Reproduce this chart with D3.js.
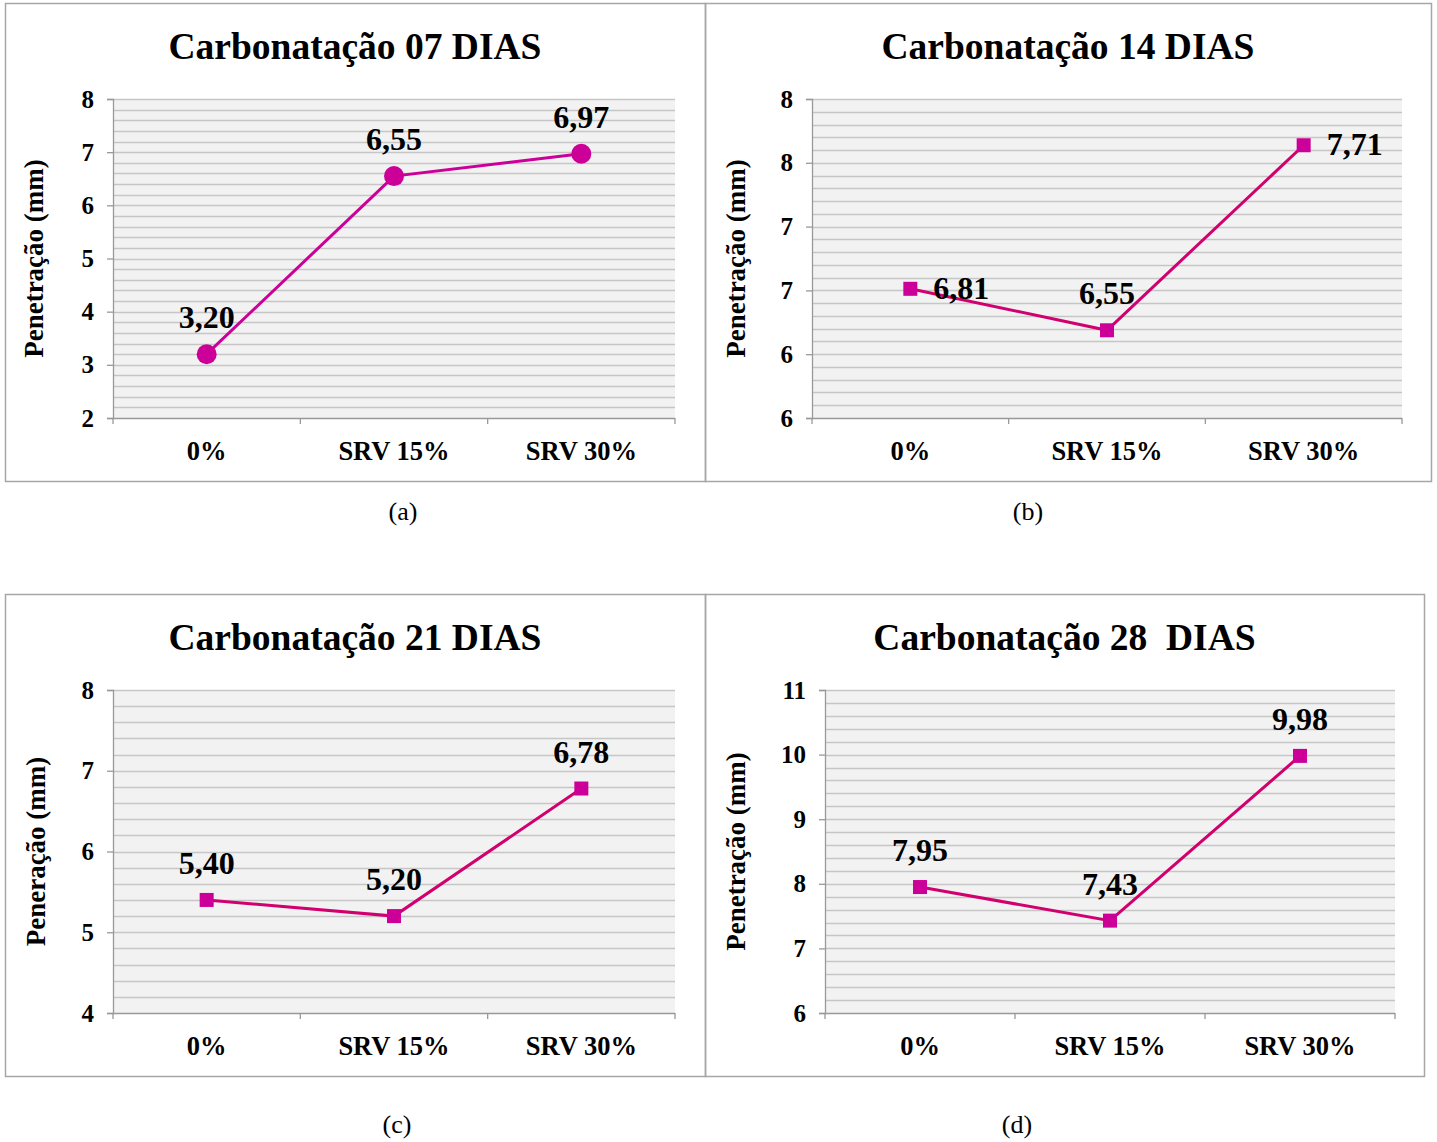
<!DOCTYPE html>
<html>
<head>
<meta charset="utf-8">
<script src="https://cdn.jsdelivr.net/npm/d3@7"></script>
<style>
  html, body { margin: 0; padding: 0; background: #ffffff; }
  svg { display: block; }
  text { font-family: "Liberation Serif", "Times New Roman", serif; fill: #000; }
</style>
</head>
<body>
<svg id="fig" width="1437" height="1142"></svg>
<script>
// Categories shared by all four panels
const categories = ["0%", "SRV 15%", "SRV 30%"];

// Carbonation depth (mm) at each age
const dias07 = [3.20, 6.55, 6.97];
const dias14 = [6.81, 6.55, 7.71];
const dias21 = [5.40, 5.20, 6.78];
const dias28 = [7.95, 7.43, 9.98];

// Y tick values per panel
const ticks07 = [2, 3, 4, 5, 6, 7, 8];
const ticks14 = [6.0, 6.4, 6.8, 7.2, 7.6, 8.0];
const ticks21 = [4, 5, 6, 7, 8];
const ticks28 = [6, 7, 8, 9, 10, 11];

// Titles, axis labels and captions
const titles = ["Carbonatação 07 DIAS", "Carbonatação 14 DIAS", "Carbonatação 21 DIAS", "Carbonatação 28\u00a0 DIAS"];
const yTitles = ["Penetração (mm)", "Penetração (mm)", "Peneração (mm)", "Penetração (mm)"];
const captions = ["(a)", "(b)", "(c)", "(d)"];

const svg = d3.select("#fig");

const panels = [
  { values: dias07, ticks: ticks07, fmt: d3.format(".0f"), marker: "circle", line: "#cc0099",
    labelPos: ["above", "above", "above"],
    box: [5, 3, 705, 481], plot: [113, 99, 675, 418], yTitleX: 35, caption: [403, 520] },
  { values: dias14, ticks: ticks14, fmt: d3.format(".0f"), marker: "square", line: "#d1006e",
    labelPos: ["right", "above", "right"],
    box: [705, 3, 1431, 481], plot: [812, 99, 1402, 418], yTitleX: 737, caption: [1028, 520] },
  { values: dias21, ticks: ticks21, fmt: d3.format(".0f"), marker: "square", line: "#d1006e",
    labelPos: ["above", "above", "above"],
    box: [5, 594, 705, 1076], plot: [113, 690, 675, 1013], yTitleX: 37, caption: [397, 1133] },
  { values: dias28, ticks: ticks28, fmt: d3.format(".0f"), marker: "square", line: "#d1006e",
    labelPos: ["above", "above", "above"],
    box: [705, 594, 1424, 1076], plot: [825, 690, 1395, 1013], yTitleX: 737, caption: [1017, 1133] }
];

const markerFill = "#cc0099";
const commaFmt = v => d3.format(".2f")(v).replace(".", ",");

panels.forEach((p, i) => {
  const [bx0, by0, bx1, by1] = p.box;
  const [px0, py0, px1, py1] = p.plot;
  const g = svg.append("g");

  // panel frame
  g.append("rect")
    .attr("x", bx0 + 0.5).attr("y", by0 + 0.5)
    .attr("width", bx1 - bx0).attr("height", by1 - by0)
    .attr("fill", "none").attr("stroke", "#a6a6a6").attr("stroke-width", 1.5);

  const x = d3.scaleBand().domain(categories).range([px0, px1]);
  const y = d3.scaleLinear().domain(d3.extent(p.ticks)).range([py1, py0]);

  // plot background
  g.append("rect")
    .attr("x", px0).attr("y", py0)
    .attr("width", px1 - px0).attr("height", py1 - py0)
    .attr("fill", "#f2f2f2");

  // gridlines: five subdivisions per major step
  const step = p.ticks[1] - p.ticks[0];
  const grid = [];
  for (let k = 0; k < p.ticks.length - 1; k++) {
    for (let m = 0; m < 5; m++) grid.push(p.ticks[k] + step * m / 5);
  }
  grid.push(p.ticks[p.ticks.length - 1]);
  g.append("g").selectAll("line").data(grid.slice(1)).join("line")
    .attr("x1", px0).attr("x2", px1)
    .attr("y1", d => Math.round(y(d)) + 0.5).attr("y2", d => Math.round(y(d)) + 0.5)
    .attr("stroke", "#c6c6c6").attr("stroke-width", 1.6);

  // y axis
  const yAxis = d3.axisLeft(y).tickValues(p.ticks).tickFormat(p.fmt).tickSize(6).tickPadding(13);
  const ya = g.append("g").attr("transform", `translate(${px0},0)`).call(yAxis);
  ya.select(".domain").attr("stroke", "#999").attr("stroke-width", 1.3);
  ya.selectAll(".tick line").attr("stroke", "#999").attr("stroke-width", 1.3);
  ya.selectAll(".tick text")
    .attr("font-family", "Liberation Serif").attr("font-weight", "bold").attr("font-size", 25)
    .attr("fill", "#000");

  // x axis: ticks on band boundaries
  const xa = g.append("g").attr("transform", `translate(0,${py1})`);
  xa.append("line").attr("x1", px0).attr("x2", px1).attr("y1", 0.5).attr("y2", 0.5)
    .attr("stroke", "#999").attr("stroke-width", 1.3);
  const bounds = categories.map(c => x(c)).concat([px1]);
  xa.selectAll("line.b").data(bounds).join("line").attr("class", "b")
    .attr("x1", d => d).attr("x2", d => d).attr("y1", 0).attr("y2", 6)
    .attr("stroke", "#999").attr("stroke-width", 1.3);
  xa.selectAll("text").data(categories).join("text")
    .attr("x", d => x(d) + x.bandwidth() / 2).attr("y", 42)
    .attr("text-anchor", "middle")
    .attr("font-weight", "bold").attr("font-size", 26.5)
    .text(d => d);

  // series line
  const pts = p.values.map((v, k) => [x(categories[k]) + x.bandwidth() / 2, y(v)]);
  g.append("path")
    .attr("d", d3.line()(pts))
    .attr("fill", "none").attr("stroke", p.line).attr("stroke-width", 3);

  // markers
  if (p.marker === "circle") {
    g.selectAll("circle.m").data(pts).join("circle").attr("class", "m")
      .attr("cx", d => d[0]).attr("cy", d => d[1]).attr("r", 10)
      .attr("fill", markerFill);
  } else {
    g.selectAll("rect.m").data(pts).join("rect").attr("class", "m")
      .attr("x", d => d[0] - 7).attr("y", d => d[1] - 7)
      .attr("width", 14).attr("height", 14)
      .attr("fill", markerFill);
  }

  // value labels
  g.selectAll("text.v").data(p.values).join("text").attr("class", "v")
    .attr("x", (v, k) => p.labelPos[k] === "right" ? pts[k][0] + 23 : pts[k][0])
    .attr("y", (v, k) => p.labelPos[k] === "right" ? pts[k][1] + 10 : pts[k][1] - 26)
    .attr("text-anchor", (v, k) => p.labelPos[k] === "right" ? "start" : "middle")
    .attr("font-weight", "bold").attr("font-size", 32)
    .text(v => commaFmt(v));

  // title
  g.append("text")
    .attr("x", (bx0 + bx1) / 2).attr("y", by0 + 56)
    .attr("text-anchor", "middle")
    .attr("font-weight", "bold").attr("font-size", 37.5)
    .attr("xml:space", "preserve")
    .text(titles[i]);

  // y axis title
  g.append("text")
    .attr("transform", `translate(${p.yTitleX + 8},${(py0 + py1) / 2}) rotate(-90)`)
    .attr("text-anchor", "middle")
    .attr("font-weight", "bold").attr("font-size", 27)
    .text(yTitles[i]);

  // caption
  svg.append("text")
    .attr("x", p.caption[0]).attr("y", p.caption[1])
    .attr("text-anchor", "middle")
    .attr("font-size", 26)
    .text(captions[i]);
});
</script>
</body>
</html>
